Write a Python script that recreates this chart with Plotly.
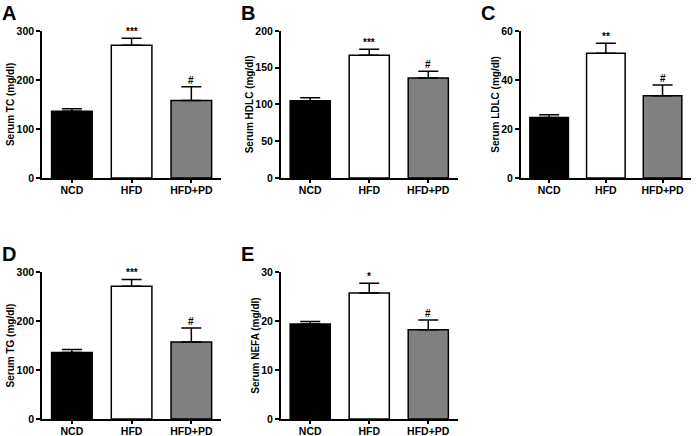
import plotly.graph_objects as go

groups = ["NCD", "HFD", "HFD+PD"]
colors = ["#000000", "#ffffff", "#808080"]

tc_mean = [136, 271, 158]
tc_sem = [5, 14, 28]
hdlc_mean = [105, 167, 136]
hdlc_sem = [4, 8, 9]
ldlc_mean = [24.7, 50.9, 33.5]
ldlc_sem = [1.1, 4.1, 4.4]
tg_mean = [136, 271, 157]
tg_sem = [6, 14, 29]
nefa_mean = [19.4, 25.7, 18.2]
nefa_sem = [0.5, 2.0, 2.0]

tc_sig = ["", "***", "#"]
hdlc_sig = ["", "***", "#"]
ldlc_sig = ["", "**", "#"]
tg_sig = ["", "***", "#"]
nefa_sig = ["", "*", "#"]

panels = [
    dict(letter="A", title="Serum TC (mg/dl)", mean=tc_mean, sem=tc_sem, sig=tc_sig,
         yr=300, dt=100, xd=[0.060, 0.316], yd=[0.592, 0.929]),
    dict(letter="B", title="Serum HDLC (mg/dl)", mean=hdlc_mean, sem=hdlc_sem, sig=hdlc_sig,
         yr=200, dt=50, xd=[0.401, 0.654], yd=[0.592, 0.929]),
    dict(letter="C", title="Serum LDLC (mg/dl)", mean=ldlc_mean, sem=ldlc_sem, sig=ldlc_sig,
         yr=60, dt=20, xd=[0.744, 0.987], yd=[0.592, 0.929]),
    dict(letter="D", title="Serum TG (mg/dl)", mean=tg_mean, sem=tg_sem, sig=tg_sig,
         yr=300, dt=100, xd=[0.060, 0.316], yd=[0.039, 0.376]),
    dict(letter="E", title="Serum NEFA (mg/dl)", mean=nefa_mean, sem=nefa_sem, sig=nefa_sig,
         yr=30, dt=10, xd=[0.401, 0.654], yd=[0.039, 0.376]),
]

FONT = "Liberation Sans, Arial, sans-serif"
fig = go.Figure()
layout = dict(
    width=700, height=436, margin=dict(l=0, r=0, t=0, b=0, autoexpand=False),
    paper_bgcolor="white", plot_bgcolor="white", showlegend=False,
    font=dict(family=FONT, color="black"),
)
annotations = []
for i, p in enumerate(panels, start=1):
    xa = "x" if i == 1 else f"x{i}"
    ya = "y" if i == 1 else f"y{i}"
    fig.add_trace(go.Bar(
        x=groups, y=p["mean"], xaxis=xa, yaxis=ya,
        marker=dict(color=colors, line=dict(color="black", width=1.5)),
        width=0.68,
        error_y=dict(type="data", symmetric=False, array=p["sem"],
                     arrayminus=[0] * 3, color="black", thickness=1.5, width=10),
        hoverinfo="skip",
    ))
    xk = "xaxis" if i == 1 else f"xaxis{i}"
    yk = "yaxis" if i == 1 else f"yaxis{i}"
    layout[xk] = dict(domain=p["xd"], anchor=ya, range=[-0.5, 2.5], automargin=False,
                      showline=True, linecolor="black", linewidth=1.5,
                      ticks="outside", ticklen=3, tickwidth=1.5, tickcolor="black",
                      ticklabelstandoff=-1,
                      showgrid=False, zeroline=False,
                      tickfont=dict(family=FONT, size=10.5, color="black", weight="bold"))
    layout[yk] = dict(domain=p["yd"], anchor=xa, range=[0, p["yr"]], automargin=False,
                      tick0=0, dtick=p["dt"],
                      showline=True, linecolor="black", linewidth=1.5,
                      ticks="outside", ticklen=4, tickwidth=1.5, tickcolor="black",
                      showgrid=False, zeroline=False,
                      tickfont=dict(family=FONT, size=10.5, color="black", weight="bold"),
                      title=dict(text=p["title"], standoff=0,
                                 font=dict(family=FONT, size=10, color="black", weight="bold")))
    for g, m, s, t in zip(groups, p["mean"], p["sem"], p["sig"]):
        if t:
            annotations.append(dict(x=g, y=m + s, xref=xa, yref=ya, text=t,
                                    showarrow=False, yanchor="bottom", yshift=-1,
                                    font=dict(family=FONT, size=10, color="black", weight="bold")))
    annotations.append(dict(x=p["xd"][0] - 0.060, y=p["yd"][1] + 0.072, xref="paper", yref="paper",
                            text=p["letter"], showarrow=False, xanchor="left", yanchor="top",
                            font=dict(family=FONT, size=20, color="black", weight="bold")))
layout["annotations"] = annotations
fig.update_layout(**layout)
fig.write_html("out.html", config={"displayModeBar": False},
               post_script="document.body.style.margin='0';")
